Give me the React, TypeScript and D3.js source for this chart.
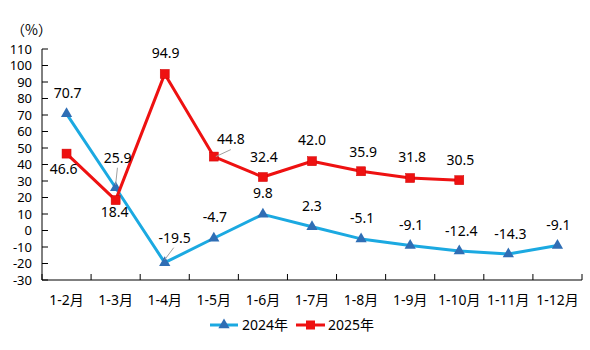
import React from "react";
import * as d3 from "d3";

const categories = ["1-2月", "1-3月", "1-4月", "1-5月", "1-6月", "1-7月", "1-8月", "1-9月", "1-10月", "1-11月", "1-12月"];
const series2024 = [70.7, 25.9, -19.5, -4.7, 9.8, 2.3, -5.1, -9.1, -12.4, -14.3, -9.1];
const series2025 = [46.6, 18.4, 94.9, 44.8, 32.4, 42.0, 35.9, 31.8, 30.5];
const labels2024 = ["70.7", "25.9", "-19.5", "-4.7", "9.8", "2.3", "-5.1", "-9.1", "-12.4", "-14.3", "-9.1"];
const labels2025 = ["46.6", "18.4", "94.9", "44.8", "32.4", "42.0", "35.9", "31.8", "30.5"];
const yTicks = [110, 100, 90, 80, 70, 60, 50, 40, 30, 20, 10, 0, -10, -20, -30];

// label offsets (style) relative to point
const off2024 = [[1, -21], [2, -30], [10, -25], [1, -21], [0, -21], [0, -21], [1, -21], [1, -20], [2, -20], [2, -20], [1, -20]];
const off2025 = [[-3, 15], [-1, 12], [1, -21], [17, -17], [1, -20], [0, -21], [2, -19], [2, -21], [1, -20]];
const leader2024 = [false, true, true, false, false, false, false, false, false, false, false];
const leader2025 = [false, false, false, true, false, false, false, false, false];

const BLUE = "#1BA9E1";
const BLUE_M = "#2F6EB5";
const RED = "#EE1111";
const FONT = "'Noto Sans', 'Noto Sans CJK SC', sans-serif";
const FS = 14;
const FS_Y = 13;

export default function App() {
  const left = 42, right = 582, top = 49, bottom = 280;
  const x = d3.scaleBand<string>().domain(categories).range([left, right]);
  const y = d3.scaleLinear().domain([-30, 110]).range([bottom, top]);
  const cx = (i: number) => (x(categories[i]) as number) + x.bandwidth() / 2;

  const line = d3.line<number>().x((_, i) => cx(i)).y((d) => y(d));

  const tri = d3.symbol().type(d3.symbolTriangle).size(55)() as string;

  return (
    <svg width={590} height={350} style={{ position: "absolute", left: 0, top: 0, background: "#fff" }} fontFamily={FONT}>
      <rect width={590} height={350} fill="#fff" />
      <text x={11} y={30} dy="0.35em" fontSize={FS} fill="#000" fontFamily="'Noto Sans CJK SC', sans-serif">（%）</text>
      {/* y axis */}
      <line x1={left} x2={left} y1={top} y2={bottom} stroke="#000" strokeWidth={1} />
      {yTicks.map((t) => (
        <g key={t}>
          <line x1={left} x2={left + 6} y1={y(t)} y2={y(t)} stroke="#000" />
          <text x={32} y={y(t)} dy="0.35em" textAnchor="end" fontSize={FS_Y} fill="#000">{t}</text>
        </g>
      ))}
      {/* x axis */}
      <line x1={left} x2={right} y1={bottom} y2={bottom} stroke="#000" />
      {d3.range(categories.length + 1).map((i) => {
        const xx = left + i * x.bandwidth();
        return <line key={i} x1={xx} x2={xx} y1={bottom} y2={bottom - 6} stroke="#000" />;
      })}
      {categories.map((c, i) => (
        <text key={c} x={cx(i)} y={300} dy="0.35em" textAnchor="middle" fontSize={FS} fill="#000">{c}</text>
      ))}
      {/* 2024 */}
      <path d={line(series2024) as string} fill="none" stroke={BLUE} strokeWidth={3} strokeLinejoin="round" />
      {series2024.map((v, i) => (
        <path key={i} d={tri} transform={`translate(${cx(i)},${y(v)})`} fill={BLUE_M} />
      ))}
      {/* 2025 */}
      <path d={line(series2025) as string} fill="none" stroke={RED} strokeWidth={3} strokeLinejoin="round" />
      {series2025.map((v, i) => (
        <rect key={i} x={cx(i) - 4.5} y={y(v) - 4.5} width={9} height={9} fill={RED} stroke="#D00000" strokeWidth={0.5} />
      ))}
      {/* leaders */}
      {series2024.map((v, i) =>
        leader2024[i] ? (
          <line key={i} x1={cx(i) + off2024[i][0] * 0.9} y1={y(v) + off2024[i][1] + 10} x2={cx(i)} y2={y(v) - 3} stroke="#A0A0A0" strokeWidth={1} />
        ) : null
      )}
      {series2025.map((v, i) =>
        leader2025[i] ? (
          <line key={i} x1={cx(i) + off2025[i][0]} y1={y(v) + off2025[i][1] + 10} x2={cx(i) + 2} y2={y(v)} stroke="#A0A0A0" strokeWidth={1} />
        ) : null
      )}
      {/* labels */}
      {series2024.map((v, i) => (
        <text key={i} x={cx(i) + off2024[i][0]} y={y(v) + off2024[i][1]} dy="0.35em" textAnchor="middle" fontSize={FS} fill="#000">{labels2024[i]}</text>
      ))}
      {series2025.map((v, i) => (
        <text key={i} x={cx(i) + off2025[i][0]} y={y(v) + off2025[i][1]} dy="0.35em" textAnchor="middle" fontSize={FS} fill="#000">{labels2025[i]}</text>
      ))}
      {/* legend */}
      <line x1={210} x2={238} y1={325} y2={325} stroke={BLUE} strokeWidth={3} />
      <path d={tri} transform="translate(224,325)" fill={BLUE_M} />
      <text x={242} y={325} dy="0.35em" fontSize={FS} fill="#000">2024年</text>
      <line x1={296} x2={325} y1={325} y2={325} stroke={RED} strokeWidth={3} />
      <rect x={306} y={320.5} width={9} height={9} fill={RED} />
      <text x={328} y={325} dy="0.35em" fontSize={FS} fill="#000">2025年</text>
    </svg>
  );
}
